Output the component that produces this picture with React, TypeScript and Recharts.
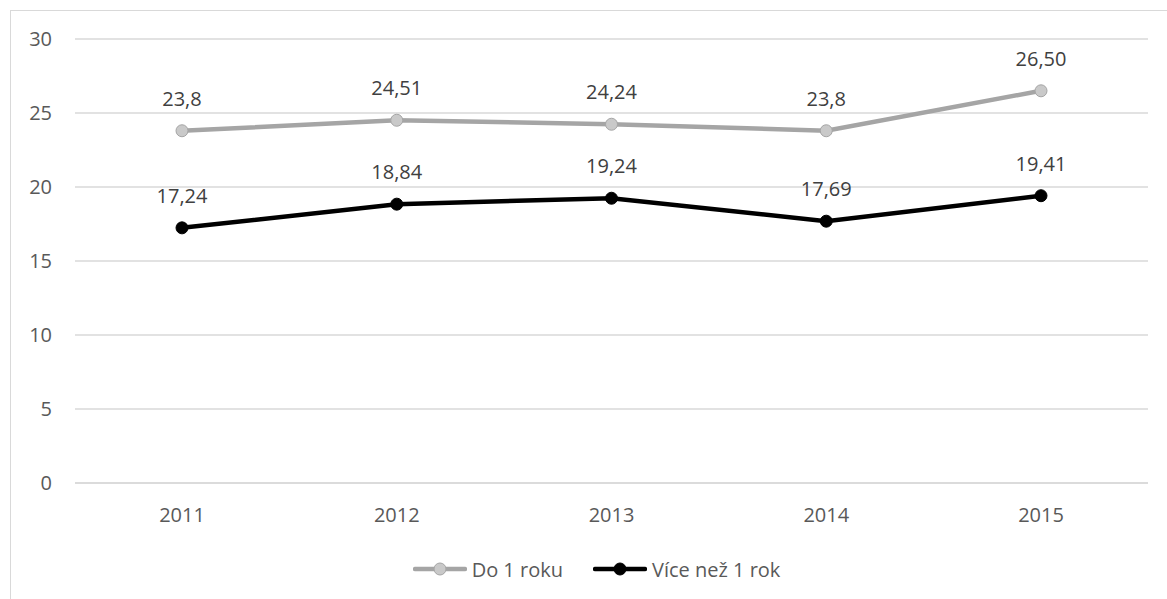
import React from 'react';
import { LineChart, Line, XAxis, YAxis, CartesianGrid, Legend, LabelList } from 'recharts';

const years = ['2011', '2012', '2013', '2014', '2015'];
const doRoku = [23.8, 24.51, 24.24, 23.8, 26.5];
const doRokuLabels = ['23,8', '24,51', '24,24', '23,8', '26,50'];
const viceNezRok = [17.24, 18.84, 19.24, 17.69, 19.41];
const viceNezRokLabels = ['17,24', '18,84', '19,24', '17,69', '19,41'];
const yTicks = [0, 5, 10, 15, 20, 25, 30];

const seriesInfo = [
  { key: 'do', name: 'Do 1 roku', stroke: '#A5A5A5', fill: '#C9C9C9' },
  { key: 'vice', name: 'Více než 1 rok', stroke: '#000000', fill: '#000000' },
];

const data = years.map((year, i) => ({
  year,
  do: doRoku[i],
  doLabel: doRokuLabels[i],
  vice: viceNezRok[i],
  viceLabel: viceNezRokLabels[i],
}));

const FONT = '"Open Sans", sans-serif';

function LegendContent() {
  return (
    <div style={{ display: 'flex', justifyContent: 'center', alignItems: 'center', height: 24, paddingLeft: 34, fontFamily: FONT, fontSize: 20, color: '#595959' }}>
      {seriesInfo.map((s, i) => (
        <div key={s.key} style={{ display: 'flex', alignItems: 'center', marginLeft: i === 0 ? 0 : 30 }}>
          <svg width={54} height={16} style={{ marginRight: 5 }}>
            <line x1={2} y1={8} x2={52} y2={8} stroke={s.stroke} strokeWidth={4.5} strokeLinecap="round" />
            <circle cx={27} cy={8} r={6} fill={s.fill} stroke={s.stroke} strokeWidth={1} />
          </svg>
          <span>{s.name}</span>
        </div>
      ))}
    </div>
  );
}

export default function App() {
  return (
    <div style={{ position: 'absolute', left: 10, top: 10, width: 1157, height: 589, overflow: 'hidden' }}>
      <div style={{ width: 1174, height: 600, border: '1px solid #D9D9D9', background: '#fff' }}>
        <LineChart
          width={1172}
          height={588}
          data={data}
          margin={{ top: 28, right: 35, left: 0, bottom: 18 }}
          style={{ fontFamily: FONT }}
        >
          <CartesianGrid vertical={false} stroke="#D9D9D9" strokeWidth={1.5} />
          <XAxis
            dataKey="year"
            height={74}
            padding={{ left: 107, right: 107 }}
            axisLine={{ stroke: '#D9D9D9', strokeWidth: 1.5 }}
            tickLine={false}
            tickSize={0}
            tickMargin={25}
            tick={{ fill: '#595959', fontSize: 20 }}
          />
          <YAxis
            width={64}
            domain={[0, 30]}
            ticks={yTicks}
            axisLine={false}
            tickLine={false}
            tickSize={0}
            tickMargin={23}
            tick={{ fill: '#595959', fontSize: 20 }}
          />
          <Legend verticalAlign="bottom" content={<LegendContent />} />
          <Line
            dataKey="do"
            name="Do 1 roku"
            stroke="#A5A5A5"
            strokeWidth={4.5}
            dot={{ r: 6, fill: '#C9C9C9', stroke: '#A5A5A5', strokeWidth: 1 }}
            isAnimationActive={false}
          >
            <LabelList dataKey="doLabel" position="top" offset={25} fill="#404040" fontSize={20} />
          </Line>
          <Line
            dataKey="vice"
            name="Více než 1 rok"
            stroke="#000000"
            strokeWidth={4.5}
            dot={{ r: 6, fill: '#000000', stroke: '#000000', strokeWidth: 1 }}
            isAnimationActive={false}
          >
            <LabelList dataKey="viceLabel" position="top" offset={25} fill="#404040" fontSize={20} />
          </Line>
        </LineChart>
      </div>
    </div>
  );
}
